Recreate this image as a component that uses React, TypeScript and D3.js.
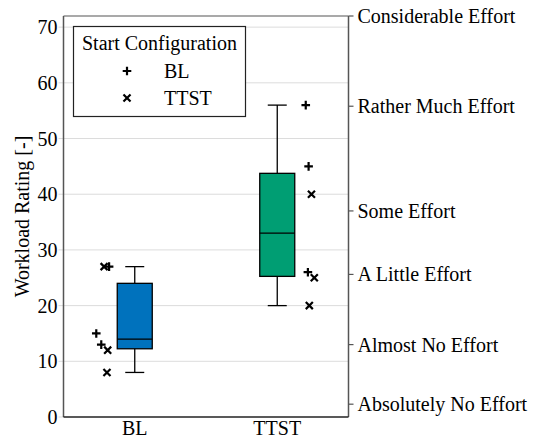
import React from "react";
import * as d3 from "d3";

// Conditions on the x axis
const conditions = ["BL", "TTST"];
// Start configuration groups (legend entries)
const startConfigs = ["BL", "TTST"];
const startSymbols = ["plus", "cross"];

// Individual workload ratings, per condition, split by start configuration
const blStartBL = [27, 15, 13];
const blStartTTST = [27, 12, 8];
const ttstStartBL = [56, 45, 26];
const ttstStartTTST = [40, 25, 20];

// Horizontal jitter of each point, in fractions of the category step
const blStartBLJitter = [-0.18, -0.27, -0.235];
const blStartTTSTJitter = [-0.215, -0.19, -0.195];
const ttstStartBLJitter = [0.2, 0.22, 0.215];
const ttstStartTTSTJitter = [0.24, 0.26, 0.225];

const boxColors = ["#0072BD", "#009E73"];

// Left axis ticks and right axis (RSME) anchors
const yTicks = [0, 10, 20, 30, 40, 50, 60, 70];
const effortValues = [2.3, 13, 25.6, 37, 55.8, 72];
const effortLabels = [
  "Absolutely No Effort",
  "Almost No Effort",
  "A Little Effort",
  "Some Effort",
  "Rather Much Effort",
  "Considerable Effort",
];

const W = 536;
const H = 439;
const M = { left: 63.5, right: 348.5, top: 16, bottom: 417 };
const FONT = "'Liberation Serif', 'Times New Roman', serif";
const FS = 20;
const txt = { fontFamily: FONT, fontSize: FS } as React.CSSProperties;

function Marker({ kind, x, y, r = 4.3 }: { kind: string; x: number; y: number; r?: number }) {
  if (kind === "plus") {
    return (
      <path
        d={`M${x - r},${y}H${x + r}M${x},${y - r}V${y + r}`}
        stroke="#000"
        strokeWidth={2.2}
        fill="none"
      />
    );
  }
  const s = r * 0.82;
  return (
    <path
      d={`M${x - s},${y - s}L${x + s},${y + s}M${x - s},${y + s}L${x + s},${y - s}`}
      stroke="#000"
      strokeWidth={2.2}
      fill="none"
    />
  );
}

export default function App() {
  const x = d3.scalePoint<string>().domain(conditions).range([M.left, M.right]).padding(0.5);
  const y = d3.scaleLinear().domain([0, 72]).range([M.bottom, M.top]);
  const step = x.step();

  const groups = [
    {
      cond: "BL",
      sets: [
        { vals: blStartBL, jit: blStartBLJitter, sym: startSymbols[0] },
        { vals: blStartTTST, jit: blStartTTSTJitter, sym: startSymbols[1] },
      ],
    },
    {
      cond: "TTST",
      sets: [
        { vals: ttstStartBL, jit: ttstStartBLJitter, sym: startSymbols[0] },
        { vals: ttstStartTTST, jit: ttstStartTTSTJitter, sym: startSymbols[1] },
      ],
    },
  ];

  const boxW = 35;
  const capW = 19;

  return (
    <svg width={W} height={H} style={{ position: "absolute", left: 0, top: 0 }}>
      <rect width={W} height={H} fill="#fff" />
      {/* grid, extended a few px past the left axis as tick marks */}
      {yTicks.map((t) => (
        <line
          key={t}
          x1={M.left - 5}
          x2={t > 0 ? M.right : M.left}
          y1={y(t)}
          y2={y(t)}
          stroke="#dcdcdc"
          strokeWidth={1}
        />
      ))}

      {/* boxes */}
      {groups.map((g, i) => {
        const all = [...g.sets[0].vals, ...g.sets[1].vals].sort(d3.ascending);
        const q1 = d3.quantile(all, 0.25)!;
        const med = d3.quantile(all, 0.5)!;
        const q3 = d3.quantile(all, 0.75)!;
        const lo = d3.min(all)!;
        const hi = d3.max(all)!;
        const cx = x(g.cond)!;
        return (
          <g key={g.cond} stroke="#000" strokeWidth={1.3}>
            <line x1={cx} x2={cx} y1={y(hi)} y2={y(q3)} />
            <line x1={cx} x2={cx} y1={y(q1)} y2={y(lo)} />
            <line x1={cx - capW / 2} x2={cx + capW / 2} y1={y(hi)} y2={y(hi)} />
            <line x1={cx - capW / 2} x2={cx + capW / 2} y1={y(lo)} y2={y(lo)} />
            <rect x={cx - boxW / 2} y={y(q3)} width={boxW} height={y(q1) - y(q3)} fill={boxColors[i]} />
            <line x1={cx - boxW / 2} x2={cx + boxW / 2} y1={y(med)} y2={y(med)} />
          </g>
        );
      })}

      {/* individual points */}
      {groups.map((g) =>
        g.sets.map((s, si) =>
          s.vals.map((v, k) => (
            <Marker key={`${g.cond}-${si}-${k}`} kind={s.sym} x={x(g.cond)! + s.jit[k] * step} y={y(v)} />
          ))
        )
      )}

      {/* frame */}
      <line x1={M.left} x2={M.left} y1={M.top} y2={M.bottom} stroke="#555" strokeWidth={1.5} />
      <line x1={M.right} x2={M.right} y1={M.top} y2={M.bottom} stroke="#555" strokeWidth={1.5} />
      <line x1={M.left} x2={M.right} y1={M.bottom} y2={M.bottom} stroke="#222" strokeWidth={1.5} />
      <line x1={M.left} x2={M.right} y1={M.top} y2={M.top} stroke="#555" strokeWidth={1.2} />

      {/* left ticks */}
      {yTicks.map((t) => (
        <text key={t} x={M.left - 6} y={y(t)} dy="0.35em" textAnchor="end" style={txt}>
          {t}
        </text>
      ))}
      <text
        transform={`translate(${29},${(M.top + M.bottom) / 2}) rotate(-90)`}
        textAnchor="middle"
        style={txt}
      >
        Workload Rating [-]
      </text>

      {/* right effort axis */}
      {effortValues.map((v, i) => (
        <g key={i}>
          <line x1={M.right} x2={M.right + 5} y1={y(v)} y2={y(v)} stroke="#555" strokeWidth={1.2} />
          <text x={M.right + 9} y={y(v)} dy="0.35em" style={txt}>
            {effortLabels[i]}
          </text>
        </g>
      ))}

      {/* x labels */}
      {conditions.map((c) => (
        <text key={c} x={x(c)!} y={M.bottom + 18} textAnchor="middle" style={txt}>
          {c}
        </text>
      ))}

      {/* legend */}
      <g>
        <rect x={73.5} y={26.5} width={172} height={90} fill="#fff" stroke="#222" strokeWidth={1.2} />
        <text x={159.5} y={43} dy="0.35em" textAnchor="middle" style={txt}>
          Start Configuration
        </text>
        {startConfigs.map((c, i) => (
          <g key={c}>
            <Marker kind={startSymbols[i]} x={127} y={71 + i * 27} />
            <text x={164} y={71 + i * 27} dy="0.35em" style={txt}>
              {c}
            </text>
          </g>
        ))}
      </g>
    </svg>
  );
}
